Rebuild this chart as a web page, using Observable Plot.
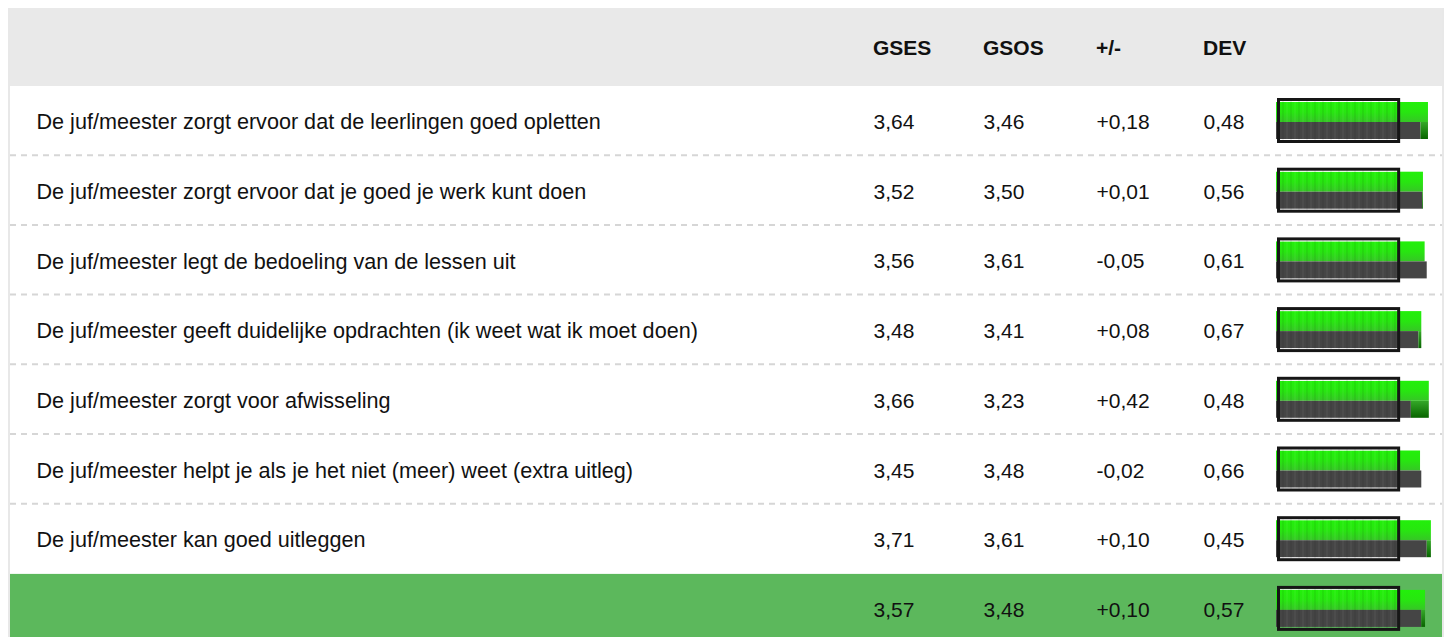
<!DOCTYPE html>
<html>
<head>
<meta charset="utf-8">
<script src="https://cdn.jsdelivr.net/npm/d3@7"></script>
<script src="https://cdn.jsdelivr.net/npm/@observablehq/plot@0.6"></script>
<style>
  html, body { margin: 0; padding: 0; background: #fff; overflow: hidden; }
  #wrap { position: absolute; left: 8px; top: 8px; width: 1432px;
          border-left: 2px solid #e8e8e8; border-right: 2px solid #e8e8e8; }
  #head { position: relative; height: 78px; background: #e9e9e9;
          font-family: "Liberation Sans", Arial, sans-serif; font-weight: bold; font-size: 21px; color: #111; }
  #head span { position: absolute; top: 28px; }
  #chart svg { display: block; background: transparent; }
</style>
</head>
<body>
<div id="wrap">
  <div id="head"></div>
  <div id="chart"></div>
</div>
<script>
// ---- data ----
const labels = [
  "De juf/meester zorgt ervoor dat de leerlingen goed opletten",
  "De juf/meester zorgt ervoor dat je goed je werk kunt doen",
  "De juf/meester legt de bedoeling van de lessen uit",
  "De juf/meester geeft duidelijke opdrachten (ik weet wat ik moet doen)",
  "De juf/meester zorgt voor afwisseling",
  "De juf/meester helpt je als je het niet (meer) weet (extra uitleg)",
  "De juf/meester kan goed uitleggen"
];
const gses = [3.64, 3.52, 3.56, 3.48, 3.66, 3.45, 3.71];
const gsos = [3.46, 3.50, 3.61, 3.41, 3.23, 3.48, 3.61];
const diff = [0.18, 0.01, -0.05, 0.08, 0.42, -0.02, 0.10];
const dev  = [0.48, 0.56, 0.61, 0.67, 0.48, 0.66, 0.45];
const total = {gses: 3.57, gsos: 3.48, diff: 0.10, dev: 0.57};
const columns = ["GSES", "GSOS", "+/-", "DEV"];
const scaleMax = 4;   // bar scale runs 0..4
const frameMax = 3;   // framed part of the bar 0..3

// ---- table built from the arrays ----
const rows = labels.map((label, i) => ({id: "r" + i, label, gses: gses[i], gsos: gsos[i], diff: diff[i], dev: dev[i]}));
const totalRow = {id: "total", label: "", ...total};
const all = [...rows, totalRow];

const num = v => v.toFixed(2).replace(".", ",");
const signed = v => (v < 0 ? "-" : "+") + Math.abs(v).toFixed(2).replace(".", ",");

// ---- layout ----
const W = 1432, BAND = 69.7, H = BAND * all.length;
const colX = [863, 973, 1086, 1193];  // left edge of each value column
const font = "Liberation Sans, Arial, sans-serif";

const head = document.getElementById("head");
columns.forEach((c, i) => {
  const s = document.createElement("span");
  s.textContent = c;
  s.style.left = colX[i] + "px";
  head.appendChild(s);
});

const txt = (accessor, dx) => Plot.text(all, {
  y: "id", text: accessor, frameAnchor: "left", textAnchor: "start", dx, dy: 1,
  fontSize: 21, fontFamily: font, fill: "#111"
});

const chart = Plot.plot({
  width: W, height: Math.ceil(H),
  margin: 0,
  x: {domain: [0, scaleMax], range: [1266, 1433], axis: null},
  y: {domain: all.map(d => d.id), range: [0, H], padding: 0, round: false, axis: null},
  marks: [
    // total row background
    Plot.cell([totalRow], {y: "id", fill: "#5cb85c"}),
    // dashed row separators
    Plot.ruleY(rows.slice(0, 6), {y: "id", dy: BAND / 2 - 1, stroke: "#d6d6d6", strokeWidth: 2, strokeDasharray: "6,5"}),
    // labels + values
    Plot.text(rows, {y: "id", text: "label", frameAnchor: "left", textAnchor: "start", dx: 26, dy: 1,
                     fontSize: 21.6, fontFamily: font, fill: "#111"}),
    txt(d => num(d.gses), colX[0]),
    txt(d => num(d.gsos), colX[1]),
    txt(d => signed(d.diff), colX[2]),
    txt(d => num(d.dev), colX[3]),
    // bars
    Plot.barX(all, {y: "id", x: "gses", fill: "url(#gGreen)", insetTop: 16, insetBottom: BAND - 36}),
    Plot.barX(all, {y: "id", x: "gsos", fill: "#454545", insetTop: 36, insetBottom: BAND - 53}),
    Plot.barX(all.filter(d => d.gses > d.gsos), {y: "id", x1: "gsos", x2: "gses", fill: "url(#gDark)", insetTop: 36, insetBottom: BAND - 53}),
    // frame over the bar
    Plot.barX(all, {y: "id", x1: 0, x2: frameMax, fill: "white", fillOpacity: 0.85, insetTop: 15, insetBottom: BAND - 16, insetLeft: 4, insetRight: 4}),
    Plot.barX(all, {y: "id", x1: 0, x2: frameMax, fill: "url(#glass)", stroke: "#161616", strokeWidth: 3,
                    insetTop: 13.5, insetBottom: BAND - 55.5, insetLeft: 2.5, insetRight: 2.6})
  ]
});

// gradients / texture referenced by the marks
const defs = d3.select(chart).insert("defs", ":first-child");
const g1 = defs.append("linearGradient").attr("id", "gGreen").attr("x1", 0).attr("x2", 0).attr("y1", 0).attr("y2", 1);
g1.append("stop").attr("offset", "0%").attr("stop-color", "#22f00a");
g1.append("stop").attr("offset", "50%").attr("stop-color", "#27e610");
g1.append("stop").attr("offset", "100%").attr("stop-color", "#36c626");
const g2 = defs.append("linearGradient").attr("id", "gDark").attr("x1", 0).attr("x2", 0).attr("y1", 0).attr("y2", 1);
g2.append("stop").attr("offset", "0%").attr("stop-color", "#34a828");
g2.append("stop").attr("offset", "100%").attr("stop-color", "#086400");
const p = defs.append("pattern").attr("id", "glass").attr("patternUnits", "userSpaceOnUse")
  .attr("width", 8).attr("height", 600);
p.append("rect").attr("x", 0).attr("y", 0).attr("width", 2).attr("height", 600).attr("fill", "rgba(0,0,0,0.06)");
p.append("rect").attr("x", 4).attr("y", 0).attr("width", 2).attr("height", 600).attr("fill", "rgba(255,255,255,0.04)");

document.getElementById("chart").appendChild(chart);
</script>
</body>
</html>
